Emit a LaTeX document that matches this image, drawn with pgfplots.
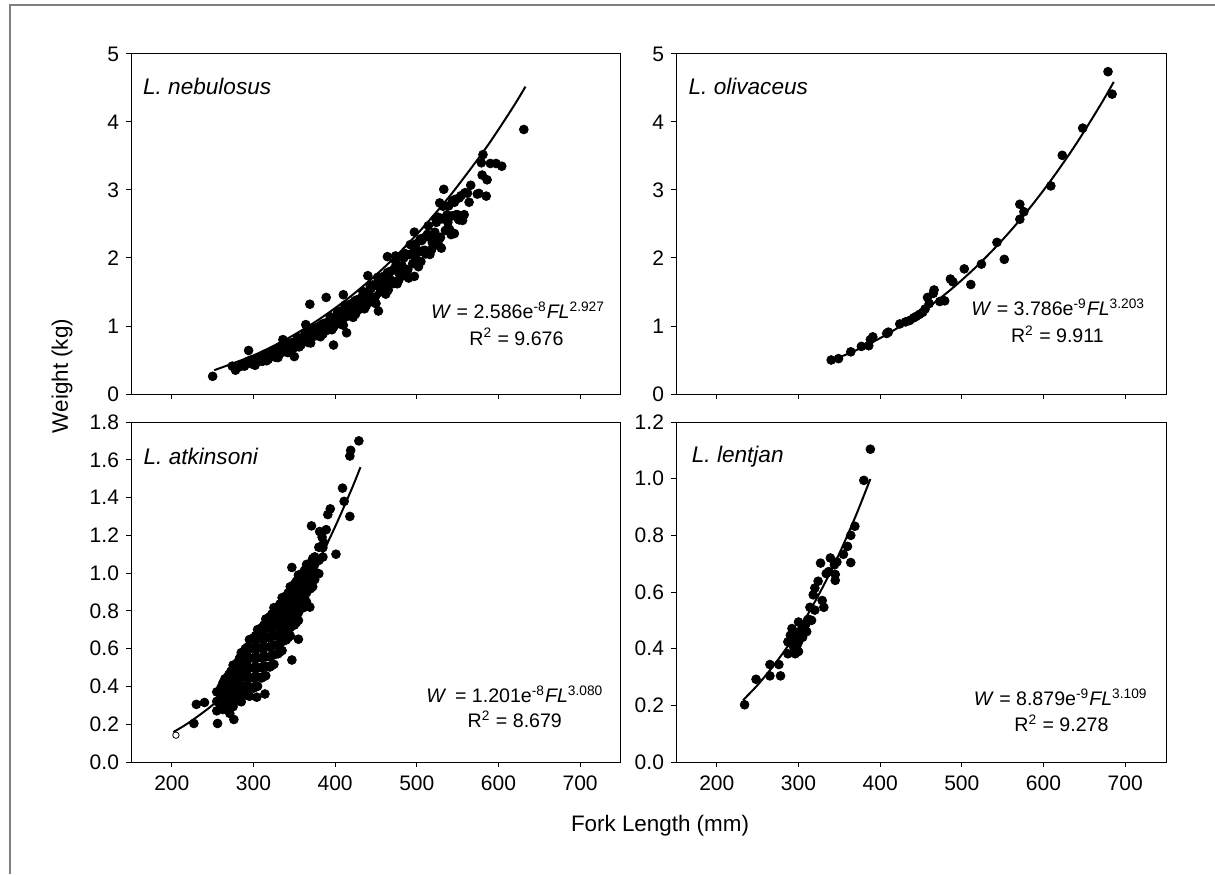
\documentclass[border=0pt]{standalone}
\usepackage{fontspec}
\setmainfont{Liberation Sans}
\usepackage{pgfplots}
\pgfplotsset{compat=1.18}

\pgfplotstableread{
x y
250 0.26
274 0.41
278 0.35
289 0.41
294 0.64
299 0.44
306 0.48
316 0.51
323 0.63
336 0.80
350 0.55
364 1.02
369 1.32
389 1.42
398 0.72
410 1.46
414 0.90
440 1.74
453 1.22
464 2.02
474 2.03
497 1.73
497 2.38
533 3.01
528 2.81
546 2.36
552 2.56
559 2.96
566 3.07
564 2.82
574 2.94
581 3.52
579 3.40
580 3.22
586 3.15
585 2.91
590 3.39
597 3.39
604 3.35
631 3.89
576 2.95
283 0.40
286 0.43
291 0.45
293 0.48
297 0.50
302 0.423
306 0.517
310 0.492
314 0.585
318 0.509
322 0.578
326 0.641
330 0.536
334 0.656
338 0.647
342 0.609
346 0.742
350 0.702
354 0.831
358 0.720
362 0.815
366 0.900
370 0.750
374 0.915
378 0.898
382 0.842
386 1.023
390 0.964
394 1.137
398 0.981
402 1.108
406 1.219
410 1.012
414 1.231
418 1.205
422 1.127
426 1.364
430 1.282
434 1.508
438 1.298
442 1.462
446 1.604
450 1.330
454 1.613
458 1.575
462 1.469
466 1.774
470 1.665
474 1.954
478 1.677
482 1.885
486 2.063
490 1.705
494 2.064
498 2.012
502 1.872
506 2.257
510 2.113
514 2.474
518 2.120
522 2.379
526 2.600
530 2.145
534 2.593
538 2.523
542 2.344
546 2.820
550 2.636
554 2.916
558 2.637
562 2.954
296 0.456
300 0.433
304 0.517
308 0.488
312 0.543
316 0.489
320 0.557
324 0.618
328 0.569
332 0.694
336 0.661
340 0.625
344 0.743
348 0.698
352 0.773
356 0.693
360 0.786
364 0.869
368 0.797
372 0.970
376 0.921
380 0.866
384 1.026
388 0.959
392 1.059
396 0.945
400 1.070
404 1.179
408 1.077
412 1.307
416 1.236
420 1.160
424 1.371
428 1.278
432 1.407
436 1.253
440 1.414
444 1.555
448 1.416
452 1.715
456 1.618
460 1.514
464 1.785
468 1.661
472 1.825
476 1.621
480 1.825
484 2.001
488 1.819
492 2.197
496 2.068
500 1.933
504 2.273
508 2.111
512 2.314
516 2.052
520 2.306
524 2.524
528 2.290
532 2.761
536 2.596
540 2.421
544 2.844
548 2.636
552 2.884
556 2.553
321 0.568
329 0.574
337 0.674
345 0.638
353 0.788
361 0.801
369 0.803
377 0.936
385 0.880
393 1.077
401 1.089
409 1.085
417 1.257
425 1.176
433 1.431
441 1.438
449 1.426
457 1.644
465 1.530
473 1.854
481 1.854
489 1.831
497 2.101
505 1.948
513 2.349
521 2.342
529 2.304
537 2.635
303 0.475
307 0.528
311 0.481
315 0.548
319 0.535
323 0.629
327 0.540
331 0.646
335 0.612
339 0.712
343 0.682
347 0.755
351 0.686
355 0.778
359 0.757
363 0.887
367 0.757
371 0.902
375 0.852
379 0.987
383 0.943
387 1.040
391 0.941
395 1.063
399 1.030
403 1.203
407 1.025
411 1.217
415 1.144
419 1.324
423 1.260
427 1.386
431 1.251
435 1.409
439 1.363
443 1.587
447 1.348
451 1.597
455 1.499
459 1.729
463 1.642
467 1.802
471 1.623
475 1.823
479 1.760
483 2.045
487 1.733
491 2.048
495 1.917
499 2.208
503 2.092
507 2.291
511 2.060
515 2.308
519 2.224
523 2.580
527 2.182
531 2.575
535 2.406
539 2.767
543 2.618
547 2.862
551 2.569
}\nebulosus

\pgfplotstableread{
x y
340 0.50
349 0.52
364 0.62
377 0.70
386 0.71
388 0.80
391 0.84
408 0.89
410 0.91
424 1.03
431 1.06
436 1.08
441 1.12
444 1.14
448 1.17
452 1.20
455 1.25
458 1.42
460 1.33
465 1.48
466 1.53
473 1.36
479 1.37
486 1.69
489 1.65
503 1.84
511 1.61
524 1.91
543 2.23
552 1.98
571 2.79
571 2.57
576 2.68
609 3.06
623 3.51
648 3.91
679 4.74
684 4.41
}\olivaceus

\pgfplotstableread{
x y
255 0.271
255 0.321
255 0.371
260 0.288
260 0.323
260 0.358
260 0.393
265 0.280
265 0.320
265 0.360
265 0.400
265 0.440
270 0.298
270 0.331
270 0.364
270 0.398
270 0.431
270 0.464
275 0.293
275 0.330
275 0.366
275 0.403
275 0.440
275 0.476
275 0.513
280 0.325
280 0.365
280 0.405
280 0.445
280 0.485
280 0.525
285 0.319
285 0.362
285 0.406
285 0.449
285 0.492
285 0.536
285 0.579
290 0.356
290 0.403
290 0.450
290 0.496
290 0.543
290 0.590
295 0.348
295 0.398
295 0.448
295 0.498
295 0.548
295 0.598
295 0.648
300 0.391
300 0.444
300 0.497
300 0.551
300 0.604
300 0.657
305 0.401
305 0.451
305 0.501
305 0.551
305 0.601
305 0.651
305 0.701
310 0.445
310 0.498
310 0.551
310 0.605
310 0.658
310 0.711
315 0.457
315 0.507
315 0.557
315 0.607
315 0.657
315 0.707
315 0.757
320 0.503
320 0.556
320 0.609
320 0.663
320 0.716
320 0.769
325 0.517
325 0.567
325 0.617
325 0.667
325 0.717
325 0.767
325 0.817
330 0.573
330 0.623
330 0.673
330 0.723
330 0.773
330 0.823
335 0.590
335 0.637
335 0.683
335 0.730
335 0.777
335 0.823
335 0.870
340 0.646
340 0.693
340 0.740
340 0.786
340 0.833
340 0.880
345 0.668
345 0.711
345 0.755
345 0.798
345 0.841
345 0.885
345 0.928
350 0.725
350 0.768
350 0.811
350 0.855
350 0.898
350 0.941
355 0.750
355 0.790
355 0.830
355 0.870
355 0.910
355 0.950
355 0.990
360 0.815
360 0.852
360 0.889
360 0.925
360 0.962
360 0.999
365 0.846
365 0.896
365 0.946
365 0.996
365 1.046
370 0.918
370 0.963
370 1.008
370 1.053
375 0.966
375 1.006
375 1.046
375 1.086
380 0.997
380 1.067
380 1.137
385 1.085
385 1.135
262.5 0.278
262.5 0.306
262.5 0.334
262.5 0.362
262.5 0.390
262.5 0.418
272.5 0.297
272.5 0.334
272.5 0.371
272.5 0.408
272.5 0.445
272.5 0.481
282.5 0.324
282.5 0.368
282.5 0.412
282.5 0.456
282.5 0.500
282.5 0.543
292.5 0.354
292.5 0.405
292.5 0.456
292.5 0.507
292.5 0.558
292.5 0.608
302.5 0.397
302.5 0.452
302.5 0.506
302.5 0.560
302.5 0.615
302.5 0.669
312.5 0.452
312.5 0.507
312.5 0.561
312.5 0.615
312.5 0.670
312.5 0.724
322.5 0.511
322.5 0.566
322.5 0.620
322.5 0.674
322.5 0.729
322.5 0.783
332.5 0.583
332.5 0.634
332.5 0.685
332.5 0.736
332.5 0.787
332.5 0.837
342.5 0.658
342.5 0.706
342.5 0.753
342.5 0.800
342.5 0.848
342.5 0.895
352.5 0.738
352.5 0.782
352.5 0.826
352.5 0.870
352.5 0.914
352.5 0.957
362.5 0.831
362.5 0.868
362.5 0.905
362.5 0.942
362.5 0.979
362.5 1.015
372.5 0.928
372.5 0.958
372.5 0.988
372.5 1.018
372.5 1.048
372.5 1.077
227 0.204
230 0.305
240 0.315
256 0.204
271 0.257
276 0.225
304 0.343
314 0.360
347 0.540
355 0.650
347 1.030
371 1.250
376 1.065
386 1.160
391 1.310
394 1.340
401 1.100
409 1.450
411 1.380
418 1.300
418 1.620
419 1.650
429 1.700
362 0.820
369 0.820
381 1.220
384 1.190
389 1.230
268 0.450
290 0.600
283 0.550
}\atkinsoni

\pgfplotstableread{
x y
234 0.202
248 0.292
265 0.344
265 0.304
276 0.344
278 0.304
287 0.424
287 0.382
290 0.447
292 0.471
294 0.406
296 0.382
297 0.447
300 0.424
300 0.494
300 0.390
304 0.470
307 0.480
309 0.487
311 0.500
312 0.504
314 0.546
316 0.500
318 0.590
320 0.614
320 0.536
324 0.638
327 0.702
329 0.570
331 0.546
334 0.665
337 0.672
339 0.720
344 0.696
345 0.662
345 0.641
347 0.706
355 0.733
360 0.761
364 0.704
364 0.800
369 0.832
380 0.994
388 1.104
291 0.430
294 0.460
298 0.410
302 0.450
305 0.440
310 0.460
}\lentjan

\pgfplotsset{
  panel/.style={
    scale only axis, width=245pt, height=170pt,
    xmin=150, xmax=750, xtick={200,300,400,500,600,700},
    tick align=outside, tick pos=left, major tick length=2.5pt,
    axis line style={line width=0.5pt},
    every tick/.style={black, line width=0.5pt},
    ticklabel style={font=\fontsize{10.5}{12}\selectfont},
    xticklabel style={yshift=-1pt},
    /pgf/number format/assume math mode=true,
    clip=false,
  },
  pts/.style={only marks, mark=*, mark size=2.2pt, black},
  fit/.style={black, line width=1pt, smooth, no marks},
}
\tikzset{
  sp/.style={anchor=west, inner sep=0pt, font=\fontsize{11.3}{13}\selectfont\itshape},
  eq/.style={font=\fontsize{9.8}{11}\selectfont},
}

\begin{document}
\begin{tikzpicture}
\useasboundingbox (0pt,0pt) rectangle (607.5pt,437pt);
\draw[gray, line width=0.6pt] (5pt,0pt) -- (5pt,434.5pt) -- (607.5pt,434.5pt);

% top left
\begin{axis}[panel, at={(65.5pt,240pt)}, anchor=south west,
  ymin=0, ymax=5, ytick={0,1,2,3,4,5}, xticklabels={}]
\addplot[fit] coordinates {(252,0.35) (300,0.568) (340,0.804) (380,1.095) (420,1.446) (460,1.861) (500,2.347) (540,2.906) (580,3.54) (600,3.89) (620,4.26) (633,4.52)};
\addplot[pts] table {\nebulosus};
\node[sp] at (axis cs:164.3,4.52) {L. nebulosus};
\node[eq] at (axis cs:624,1.23) {\textit{W} = 2.586e\textsuperscript{-8}\textit{FL}\textsuperscript{2.927}};
\node[eq] at (axis cs:622,0.84) {R\textsuperscript{2} = 9.676};
\end{axis}

% top right
\begin{axis}[panel, at={(338pt,240pt)}, anchor=south west,
  ymin=0, ymax=5, ytick={0,1,2,3,4,5}, xticklabels={}]
\addplot[fit] coordinates {(340,0.49) (370,0.641) (400,0.822) (430,1.036) (460,1.284) (490,1.571) (520,1.898) (550,2.270) (580,2.688) (610,3.157) (640,3.678) (670,4.256) (686,4.589)};
\addplot[pts] table {\olivaceus};
\node[sp] at (axis cs:165,4.52) {L. olivaceus};
\node[eq] at (axis cs:618,1.28) {\textit{W} = 3.786e\textsuperscript{-9}\textit{FL}\textsuperscript{3.203}};
\node[eq] at (axis cs:617,0.88) {R\textsuperscript{2} = 9.911};
\end{axis}

% bottom left
\begin{axis}[panel, at={(65.5pt,56pt)}, anchor=south west,
  ymin=0, ymax=1.8, ytick={0,0.2,0.4,0.6,0.8,1.0,1.2,1.4,1.6,1.8},
  yticklabel style={/pgf/number format/.cd, fixed, fixed zerofill, precision=1}]
\addplot[fit] coordinates {(202,0.159) (220,0.206) (250,0.302) (280,0.425) (300,0.524) (320,0.636) (340,0.763) (360,0.907) (380,1.067) (400,1.246) (420,1.443) (431,1.561)};
\addplot[pts] table {\atkinsoni};
\addplot[only marks, mark=*, mark size=1.6pt, draw=black, fill=white] coordinates {(205,0.142)};
\node[sp] at (axis cs:165,1.62) {L. atkinsoni};
\node[eq] at (axis cs:620,0.36) {\textit{W}\, = 1.201e\textsuperscript{-8}\textit{FL}\textsuperscript{3.080}};
\node[eq] at (axis cs:620,0.225) {R\textsuperscript{2} = 8.679};
\end{axis}

% bottom right
\begin{axis}[panel, at={(338pt,56pt)}, anchor=south west,
  ymin=0, ymax=1.2, ytick={0,0.2,0.4,0.6,0.8,1.0,1.2},
  yticklabel style={/pgf/number format/.cd, fixed, fixed zerofill, precision=1}]
\addplot[fit] coordinates {(232,0.218) (250,0.272) (270,0.342) (290,0.422) (310,0.514) (330,0.619) (350,0.736) (370,0.868) (388,0.999)};
\addplot[pts] table {\lentjan};
\node[sp] at (axis cs:169,1.076) {L. lentjan};
\node[eq] at (axis cs:621,0.228) {\textit{W} = 8.879e\textsuperscript{-9}\textit{FL}\textsuperscript{3.109}};
\node[eq] at (axis cs:622,0.137) {R\textsuperscript{2} = 9.278};
\end{axis}

\node[rotate=90, font=\fontsize{11.2}{13}\selectfont] at (31pt,249pt) {Weight (kg)};
\node[font=\fontsize{11.2}{13}\selectfont] at (330pt,24pt) {Fork Length (mm)};
\end{tikzpicture}
\end{document}
